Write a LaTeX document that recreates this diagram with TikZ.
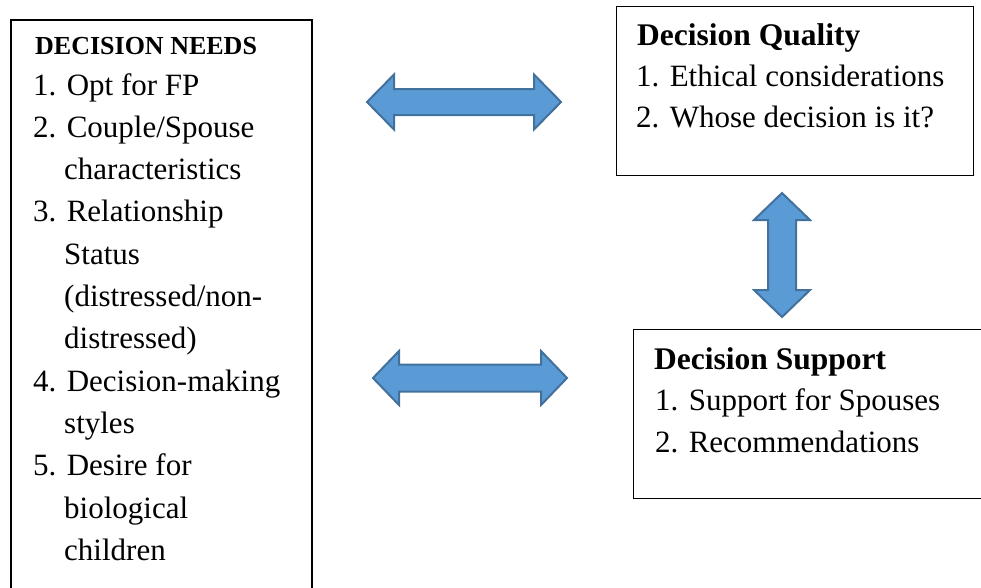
\documentclass[tikz,border=0pt]{standalone}
\usepackage{fontspec}
\setmainfont{Liberation Serif}
\definecolor{arrowfill}{HTML}{5B9BD5}
\definecolor{arrowedge}{HTML}{41719C}
\begin{document}
\begin{tikzpicture}[x=1pt,y=-1pt,
  txt/.style={anchor=base west, inner sep=0pt, font=\fontsize{31}{40}\selectfont},
  hd/.style={anchor=base west, inner sep=0pt, font=\fontsize{31.5}{40}\selectfont\bfseries},
  hdsmall/.style={anchor=base west, inner sep=0pt, font=\fontsize{26}{32}\selectfont\bfseries},
  box/.style={draw=black, line width=1.4pt, anchor=north west, inner sep=0pt},
  blockarrow/.style={fill=arrowfill, draw=arrowedge, line width=2pt, line join=miter}]
\useasboundingbox (0,0) rectangle (981,587);
\clip (0,0) rectangle (981,587);
\fill[white] (0,0) rectangle (981,587);

% boxes
\node[box, line width=1.8pt, minimum width=301pt, minimum height=590pt] (needs) at (10,19) {};
\node[box, minimum width=357pt, minimum height=169pt] (quality) at (616,6) {};
\node[box, minimum width=370pt, minimum height=169pt] (support) at (633,329) {};

% left box text
\node[hdsmall] (n0) at (35,54) {DECISION NEEDS};
\node[txt] (n1) at (33,95) {1. Opt for FP};
\node[txt] (n2) at (33,137.3) {2. Couple/Spouse};
\node[txt] (n3) at (64,179.6) {characteristics};
\node[txt] (n4) at (33,221.9) {3. Relationship};
\node[txt] (n5) at (64,264.2) {Status};
\node[txt] (n6) at (64,306.5) {(distressed/non-};
\node[txt] (n7) at (64,348.8) {distressed)};
\node[txt] (n8) at (33,391.1) {4. Decision-making};
\node[txt] (n9) at (64,433.4) {styles};
\node[txt] (n10) at (33,475.7) {5. Desire for};
\node[txt] (n11) at (64,518) {biological};
\node[txt] (n12) at (64,560.3) {children};

% quality box text
\node[hd] (q0) at (637,45) {Decision Quality};
\node[txt] (q1) at (636,86) {1. Ethical considerations};
\node[txt] (q2) at (636,127) {2. Whose decision is it?};

% support box text
\node[hd] (s0) at (654,369) {Decision Support};
\node[txt] (s1) at (655,410) {1. Support for Spouses};
\node[txt] (s2) at (655,452) {2. Recommendations};

% block arrows
\draw[blockarrow] (367,102) -- (394,74.5) -- (394,89) -- (534,89) -- (534,74.5) -- (561,102)
  -- (534,129.5) -- (534,115) -- (394,115) -- (394,129.5) -- cycle;
\draw[blockarrow] (373,378) -- (399,351) -- (399,364.5) -- (541,364.5) -- (541,351) -- (567,378)
  -- (541,405) -- (541,391.5) -- (399,391.5) -- (399,405) -- cycle;
\draw[blockarrow] (782,193) -- (810,220) -- (796,220) -- (796,290) -- (810,290) -- (782,317)
  -- (754,290) -- (768,290) -- (768,220) -- (754,220) -- cycle;
\end{tikzpicture}
\end{document}
